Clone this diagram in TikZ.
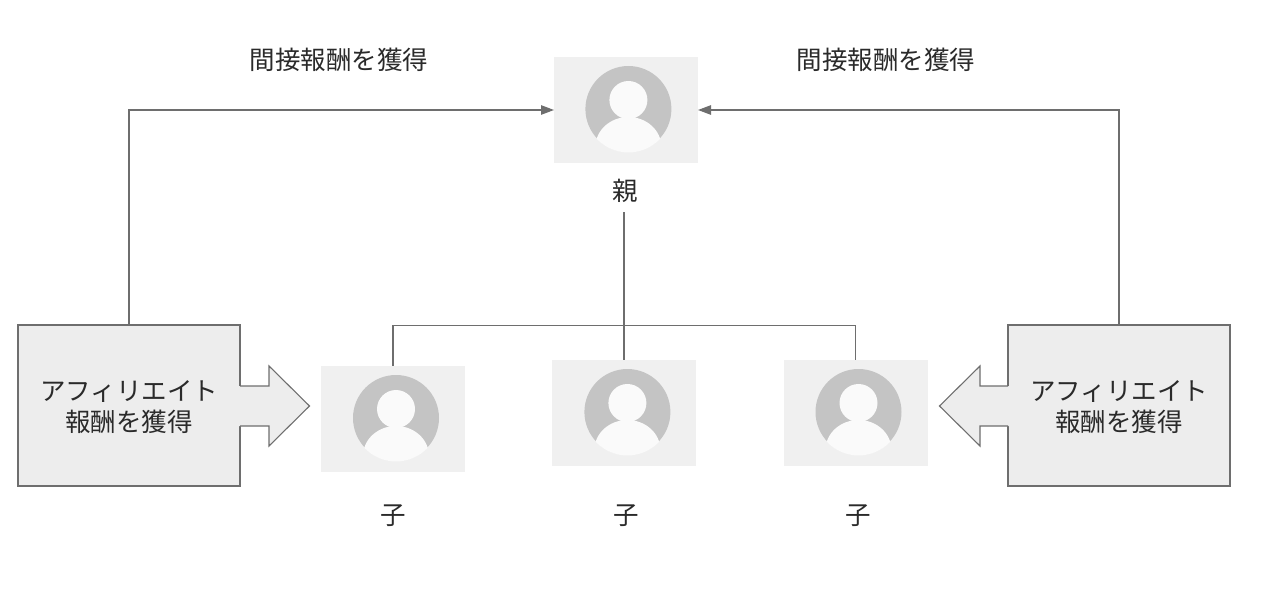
\documentclass[tikz,border=0pt]{standalone}
\usepackage{fontspec}
\setmainfont{Noto Sans CJK JP}
\usetikzlibrary{arrows.meta}
\definecolor{linec}{HTML}{6E6E6E}
\definecolor{boxc}{HTML}{EDEDED}
\definecolor{photoc}{HTML}{F0F0F0}
\definecolor{ringc}{HTML}{C4C4C4}
\definecolor{facec}{HTML}{FAFAFA}
\definecolor{textc}{HTML}{2A2A2A}
\tikzset{
  photo/.style={fill=photoc,minimum width=144pt,minimum height=106pt,inner sep=0pt,outer sep=0pt},
  caption/.style={font=\fontsize{25.5}{31}\selectfont,text=textc,inner sep=0pt,outer sep=0pt,align=center},
  rewardbox/.style={fill=boxc,draw=linec,line width=1.1pt,minimum width=222pt,minimum height=161pt,inner sep=0pt,outer sep=0pt},
  conn/.style={draw=linec,line width=1.1pt},
  tip/.style={-{Triangle[length=13pt,width=9.5pt]},linec},
  bigarrow/.style={draw=linec,line width=1.1pt,line join=miter},
  pics/avatar/.style={code={
    \fill[ringc] (0,0) circle (43pt);
    \begin{scope}
      \clip (0,0) circle (43.5pt);
      \fill[facec] (0,38) ellipse (33pt and 30pt);
    \end{scope}
    \fill[facec] (0,-9) circle (19pt);
  }}
}
\begin{document}
\begin{tikzpicture}[x=1pt,y=-1pt]
\useasboundingbox (0,0) rectangle (1280,594);
% photo frames
\node[photo] (oya) at (626,110) {};
\node[photo] (ko1) at (393,418.5) {};
\node[photo] (ko2) at (624,412.5) {};
\node[photo] (ko3) at (855.7,412.5) {};
\pic at (628.4,109) {avatar};
\pic at (396,418) {avatar};
\pic at (627.4,412) {avatar};
\pic at (858.5,412) {avatar};
% captions
\node[caption] (oyalab) at (625,191) {親};
\node[caption] (kolab1) at (393,516) {子};
\node[caption] (kolab2) at (626,516) {子};
\node[caption] (kolab3) at (858,516) {子};
\node[caption] (topl) at (339,60) {間接報酬を獲得};
\node[caption] (topr) at (886,60) {間接報酬を獲得};
% boxes
\node[rewardbox] (lbox) at (129,405.5) {};
\node[rewardbox] (rbox) at (1119,405.5) {};
\node[caption] (ltext) at (129,407) {アフィリエイト\\報酬を獲得};
\node[caption] (rtext) at (1119,407) {アフィリエイト\\報酬を獲得};
% large arrows
\fill[boxc] (lbox.east |- 0,386) ++(-2,0) -- (269,386) -- (269,366) -- (309.5,406) -- (269,446) -- (269,426) -- ([xshift=-2pt]lbox.east |- 0,426) -- cycle;
\draw[bigarrow] (lbox.east |- 0,386) -- (269,386) -- (269,366) -- (309.5,406) -- (269,446) -- (269,426) -- (lbox.east |- 0,426);
\fill[boxc] (rbox.west |- 0,386) ++(2,0) -- (980,386) -- (980,366) -- (939.5,406) -- (980,446) -- (980,426) -- ([xshift=2pt]rbox.west |- 0,426) -- cycle;
\draw[bigarrow] (rbox.west |- 0,386) -- (980,386) -- (980,366) -- (939.5,406) -- (980,446) -- (980,426) -- (rbox.west |- 0,426);
% connectors
\coordinate (bus) at (625,325.5);
\coordinate (trunktop) at (ko2.north |- 0,212);
\draw[conn] (trunktop) -- (ko2.north);
\draw[conn] (ko1.north) |- (bus) -| (ko3.north);
\draw[conn,tip] (lbox.north) |- (oya.west);
\draw[conn,tip] (rbox.north) |- (oya.east);
\end{tikzpicture}
\end{document}
